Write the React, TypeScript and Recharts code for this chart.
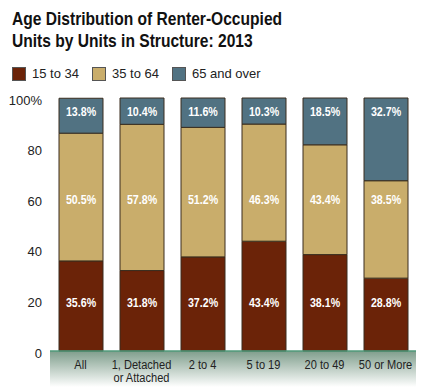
import React from 'react';
import { BarChart, Bar, XAxis, YAxis, LabelList } from 'recharts';

const categories = ['All', '1, Detached|or Attached', '2 to 4', '5 to 19', '20 to 49', '50 or More'];
const age15to34 = [35.6, 31.8, 37.2, 43.4, 38.1, 28.8];
const age35to64 = [50.5, 57.8, 51.2, 46.3, 43.4, 38.5];
const age65plus = [13.8, 10.4, 11.6, 10.3, 18.5, 32.7];
const yTicks = [0, 20, 40, 60, 80, 100];

const SERIES = [
  { key: 'young', name: '15 to 34', values: age15to34, color: '#6b2308', labelAt: 19 },
  { key: 'mid', name: '35 to 64', values: age35to64, color: '#c9ad6b', labelAt: 60 },
  { key: 'old', name: '65 and over', values: age65plus, color: '#517282', labelAt: 94.5 },
];

const data = categories.map((c, i) => ({
  cat: c,
  young: age15to34[i],
  mid: age35to64[i],
  old: age65plus[i],
}));

// no narrow font installed, so squeeze Liberation Sans horizontally
const SANS = '"Liberation Sans", Arial, Helvetica, sans-serif';
const SQUEEZE = 0.82;

// put each label at a fixed value height, using the bar's own geometry
function makeLabel(seriesIdx: number) {
  return (props: any) => {
    const { x, y, width, height, index } = props;
    const s = SERIES[seriesIdx];
    const v = s.values[index];
    const h = Math.abs(height);
    const ppu = h / v;
    let below = 0;
    for (let k = 0; k < seriesIdx; k++) below += SERIES[k].values[index];
    const top = Math.min(y, y + height);
    const baseY = top + h + below * ppu;
    const ly = baseY - s.labelAt * ppu;
    return (
      <text
        transform={`translate(${x + width / 2},${ly}) scale(${SQUEEZE},1)`}
        textAnchor="middle"
        dominantBaseline="central"
        fill="#fff"
        fontFamily={SANS}
        fontWeight="bold"
        fontSize={13}
      >
        {v.toFixed(1)}%
      </text>
    );
  };
}

function CatTick(props: any) {
  const { x, y, payload } = props;
  const lines = String(payload.value).split('|');
  return (
    <g transform={`translate(${x},${y}) scale(${SQUEEZE},1)`}>
      {lines.map((l, i) => (
        <text key={i} x={0} y={i * 14 + 9.5} textAnchor="middle" fill="#222" fontFamily={SANS} fontSize={13.5}>
          {l}
        </text>
      ))}
    </g>
  );
}

export default function App() {
  return (
    <div style={{ position: 'absolute', left: 0, top: 0, width: 432, height: 391, background: '#fff', overflow: 'hidden' }}>
      <div style={{ position: 'absolute', left: 12, top: 8, fontFamily: SANS, fontWeight: 'bold', fontSize: 19, lineHeight: '22px', color: '#111', whiteSpace: 'nowrap', transform: `scaleX(${SQUEEZE})`, transformOrigin: 'left top' }}>
        Age Distribution of Renter-Occupied<br />Units by Units in Structure: 2013
      </div>
      <div style={{ position: 'absolute', left: 12, top: 66, display: 'flex', fontFamily: SANS, fontSize: 13, color: '#222', whiteSpace: 'nowrap' }}>
        {SERIES.map((s) => (
          <div key={s.key} style={{ display: 'flex', alignItems: 'center', width: 80, flexShrink: 0 }}>
            <span style={{ display: 'inline-block', flexShrink: 0, width: 12, height: 12, background: s.color, border: '1px solid #555', marginRight: 6 }} />
            {s.name}
          </div>
        ))}
      </div>
      <div style={{ position: 'absolute', left: 50, top: 351, width: 366, height: 40, background: 'linear-gradient(#7f9e8c, #ffffff 90%)' }} />
      <div style={{ position: 'absolute', left: 0, top: 0 }}>
        <BarChart width={432} height={391} data={data} margin={{ top: 98, right: 16, bottom: 10, left: 0 }}>
          <XAxis
            dataKey="cat"
            interval={0}
            tickLine={false}
            axisLine={{ stroke: '#4f9a7a', strokeWidth: 1.5 }}
            tick={<CatTick />}
          />
          <YAxis
            width={50}
            domain={[0, 100]}
            ticks={yTicks}
            axisLine={false}
            tickLine={false}
            tick={{ fill: '#222', fontFamily: SANS, fontSize: 13, dy: 2 }}
            tickFormatter={(v: number) => (v === 100 ? '100%' : String(v))}
          />
          {SERIES.map((s, i) => (
            <Bar key={s.key} dataKey={s.key} stackId="a" fill={s.color} stroke="#3a2d1e" strokeWidth={1} barSize={44} isAnimationActive={false}>
              <LabelList dataKey={s.key} content={makeLabel(i)} />
            </Bar>
          ))}
        </BarChart>
      </div>
    </div>
  );
}
